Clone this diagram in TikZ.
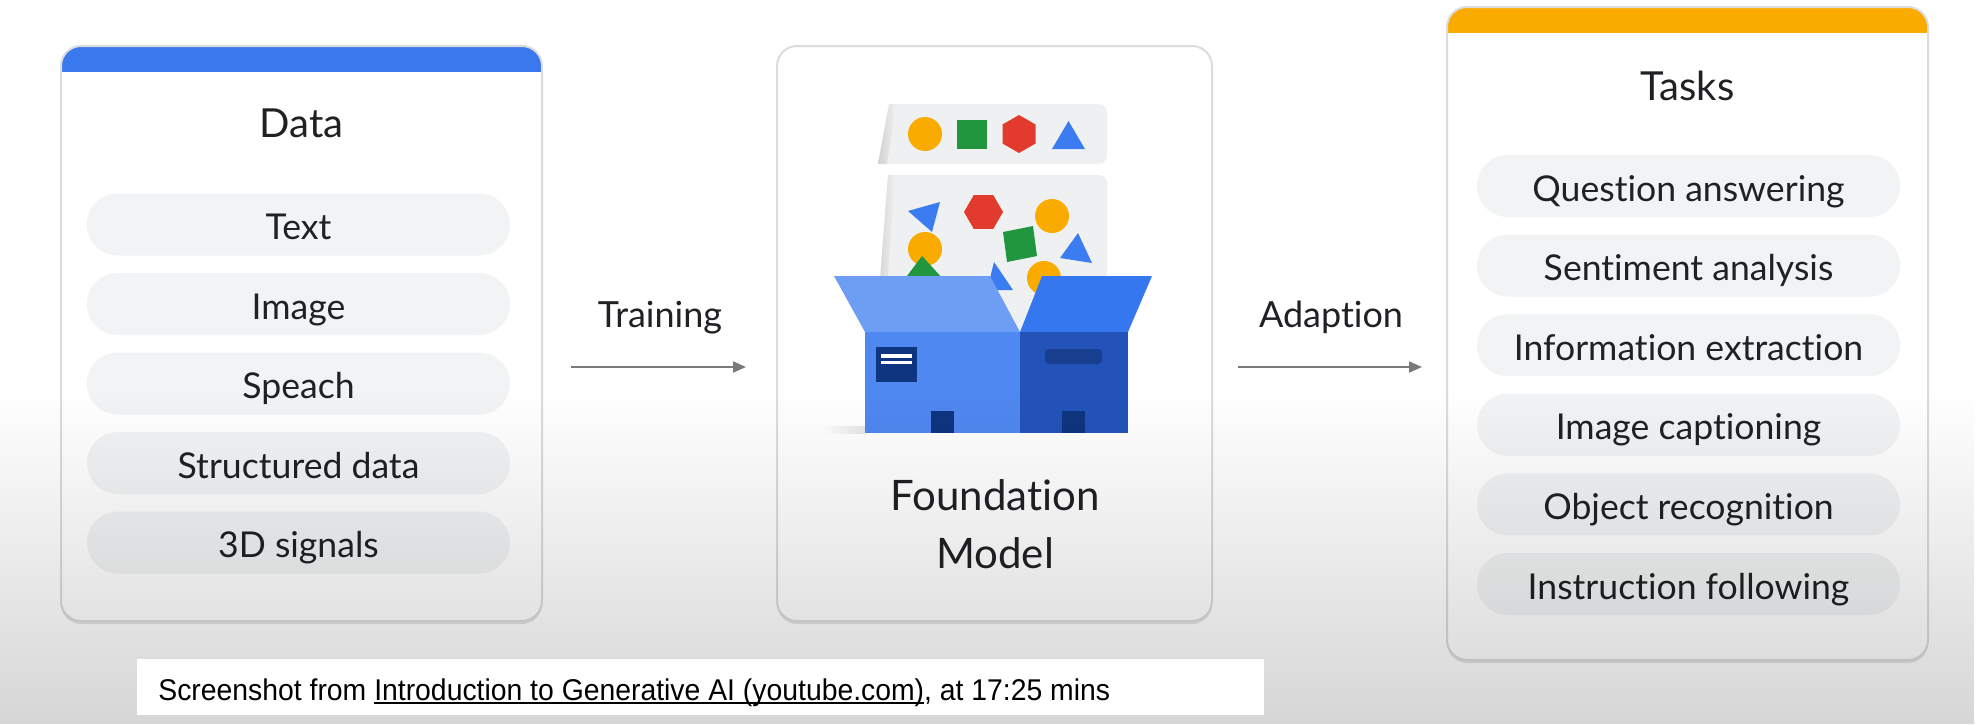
\documentclass[tikz,border=0pt]{standalone}
\usepackage{fontspec}
\setmainfont{Lato}[Ligatures={NoCommon,NoRare}]
\newfontfamily\capfont{Liberation Sans}
\usetikzlibrary{arrows.meta,fadings}

\definecolor{ink}{HTML}{202124}
\definecolor{cardline}{HTML}{DADCE0}
\definecolor{pillgray}{HTML}{F1F3F4}
\definecolor{panelgray}{HTML}{EFF0F1}
\definecolor{gblue}{HTML}{3A78EE}
\definecolor{gamber}{HTML}{F9AB00}
\definecolor{shapeblue}{HTML}{3B7CF0}
\definecolor{shapegreen}{HTML}{22963F}
\definecolor{shapered}{HTML}{E23A2C}
\definecolor{shapeyellow}{HTML}{F9AB00}
\definecolor{flapleft}{HTML}{6D9EF3}
\definecolor{flapright}{HTML}{3577EF}
\definecolor{faceleft}{HTML}{4F88F0}
\definecolor{faceright}{HTML}{2353B9}
\definecolor{navy}{HTML}{0F3580}
\definecolor{slot}{HTML}{173F8E}
\definecolor{arrowgray}{HTML}{7A7A7A}

\tikzfading[name=fadedown, top color=transparent!100, bottom color=transparent!0]
\tikzfading[name=fadeleft, left color=transparent!100, right color=transparent!0]

% underline sitting just below the baseline
\newcommand\capul[1]{\setbox0\hbox{#1}\rlap{\rule[-1.9pt]{\wd0}{0.7pt}}\box0}

\begin{document}
\begin{tikzpicture}[x=0.5pt,y=-0.5pt,
  card/.style={draw=cardline, line width=1pt, fill=white, rounded corners=10pt, inner sep=0pt},
  topbar/.style={path picture={\fill[#1, sharp corners] (path picture bounding box.north west) rectangle ([yshift=-13pt]path picture bounding box.north east);}},
  pill/.style={fill=pillgray, rounded corners=15.5pt, minimum width=211.5pt, minimum height=31pt,
    inner sep=0pt, text height=15pt, text depth=0pt, text=ink, font=\fontsize{17.8pt}{22pt}\selectfont},
  ttl/.style={inner sep=0pt, anchor=base, text=ink, font=\fontsize{20pt}{24pt}\selectfont},
  big/.style={inner sep=0pt, anchor=base, text=ink, font=\fontsize{21pt}{25pt}\selectfont},
  lbl/.style={inner sep=0pt, anchor=base, text=ink, font=\fontsize{18pt}{22pt}\selectfont},
  flow/.style={draw=arrowgray, line width=1pt, -{Triangle[length=6.5pt,width=5.5pt]}},
  panel/.style={fill=panelgray, rounded corners=4pt},
]
\useasboundingbox (0,0) rectangle (1980,724);
\fill[white] (0,0) rectangle (1980,724);

% ---------- cards ----------
\fill[black, opacity=0.10, rounded corners=10pt] (61,49) rectangle (542,624);
\fill[black, opacity=0.10, rounded corners=10pt] (777,49) rectangle (1212,624);
\fill[black, opacity=0.10, rounded corners=10pt] (1447,10) rectangle (1928,663);
\node[card, topbar=gblue, minimum width=240.5pt, minimum height=287.5pt] (data) at (301.5,333.5) {};
\node[card, minimum width=217.5pt, minimum height=287.5pt] (model) at (994.5,333.5) {};
\node[card, topbar=gamber, minimum width=240.5pt, minimum height=326.5pt] (tasks) at (1687.5,333.5) {};

% ---------- card titles ----------
\node[ttl] (dataT) at (301.5,137) {Data};
\node[ttl] (tasksT) at (1687.5,100) {Tasks};

% ---------- data items ----------
\node[pill] (d1) at (298.5,224.5) {Text};
\node[pill] (d2) at (298.5,304) {Image};
\node[pill] (d3) at (298.5,383.5) {Speach};
\node[pill] (d4) at (298.5,463) {Structured data};
\node[pill] (d5) at (298.5,542.5) {3D signals};

% ---------- task items ----------
\node[pill] (t1) at (1688.5,186) {Question answering};
\node[pill] (t2) at (1688.5,265.6) {Sentiment analysis};
\node[pill] (t3) at (1688.5,345.2) {Information extraction};
\node[pill] (t4) at (1688.5,424.8) {Image captioning};
\node[pill] (t5) at (1688.5,504.4) {Object recognition};
\node[pill] (t6) at (1688.5,584) {Instruction following};

% ---------- open box illustration ----------
% upper sheet with a row of shapes
\path[panel] (889,104) -- (1107,104) -- (1107,164) -- (878,164) -- cycle;
\shade[left color=black!18, right color=panelgray] (878,164) -- (889,104) -- (896,104) -- (887,164) -- cycle;
\fill[shapeyellow] (925,134) circle[radius=8.5pt];
\fill[shapegreen] (957,120) rectangle (987,149);
\fill[shapered] (1019,115) -- (1035.5,124.5) -- (1035.5,143.5) -- (1019,153) -- (1002.5,143.5) -- (1002.5,124.5) -- cycle;
\fill[shapeblue] (1052,149) -- (1085,149) -- (1068.5,121) -- cycle;

% lower sheet with scattered shapes
\path[panel] (888,175) -- (1107,175) -- (1107,332) -- (876,332) -- cycle;
\shade[left color=black!18, right color=panelgray] (876,332) -- (888,175) -- (895,175) -- (884,332) -- cycle;
\fill[shapeblue] (908,211) -- (940,202) -- (932,232) -- cycle;
\fill[shapered] (1003,212) -- (993.25,195.1) -- (973.75,195.1) -- (964,212) -- (973.75,228.9) -- (993.25,228.9) -- cycle;
\fill[shapeyellow] (1052,216) circle[radius=8.5pt];
\fill[shapeyellow] (925,249) circle[radius=8.5pt];
\fill[shapegreen] (1003,232) -- (1033,226) -- (1037,256) -- (1007,262) -- cycle;
\fill[shapeblue] (1078,233) -- (1060,258) -- (1092,263) -- cycle;
\fill[shapegreen] (922,256) -- (895,292) -- (955,292) -- cycle;
\fill[shapeblue] (994,262) -- (987,290) -- (1013,290) -- cycle;
\fill[shapeyellow] (1044,278) circle[radius=8.5pt];

% floor shadow
\fill[black, opacity=0.10, path fading=fadeleft] (822,426) rectangle (866,434);

% flaps
\fill[flapleft] (834,276) -- (990,276) -- (1020,332) -- (865,332) -- cycle;
\fill[flapright] (1042,276) -- (1152,276) -- (1128,332) -- (1020,332) -- cycle;
% front faces
\fill[faceleft] (865,332) rectangle (1020,433);
\fill[faceright] (1020,332) rectangle (1128,433);
% shipping label
\fill[navy] (876,347) rectangle (917,382);
\fill[white] (881,354) rectangle (912,357.5);
\fill[white] (881,360.5) rectangle (912,364);
% hand slot
\fill[slot, rounded corners=2pt] (1045,349) rectangle (1102,364);
% tape ends
\fill[navy] (931,411) rectangle (954,433);
\fill[navy] (1062,411) rectangle (1085,433);

% ---------- model caption ----------
\node[big] (fm1) at (995,510) {Foundation};
\node[big] (fm2) at (995,568) {Model};

% ---------- connectors ----------
\node[lbl] (trainT) at (660,327) {Training};
\node[lbl] (adaptT) at (1331,327) {Adaption};
\draw[flow, shorten <=14pt, shorten >=15pt] ([yshift=-16.75pt]data.east) -- ([yshift=-16.75pt]model.west);
\draw[flow, shorten <=12.5pt, shorten >=12pt] ([yshift=-16.75pt]model.east) -- ([yshift=-16.75pt]tasks.west);

% ---------- grey haze toward the bottom ----------
\fill[black, opacity=0.16, path fading=fadedown] (0,390) rectangle (1980,724);

% ---------- source line ----------
\node[fill=white, minimum width=563.5pt, minimum height=28pt, inner sep=0pt] (src) at (700.5,687) {};
\node[inner sep=0pt, anchor=base west, text=black, font=\capfont\fontsize{15pt}{18pt}\selectfont] (srcT) at (158,700)
  {\scalebox{0.945}[1]{Screenshot from \capul{Introduction to Generative AI (youtube.com)}, at 17:25 mins}};
\end{tikzpicture}
\end{document}
